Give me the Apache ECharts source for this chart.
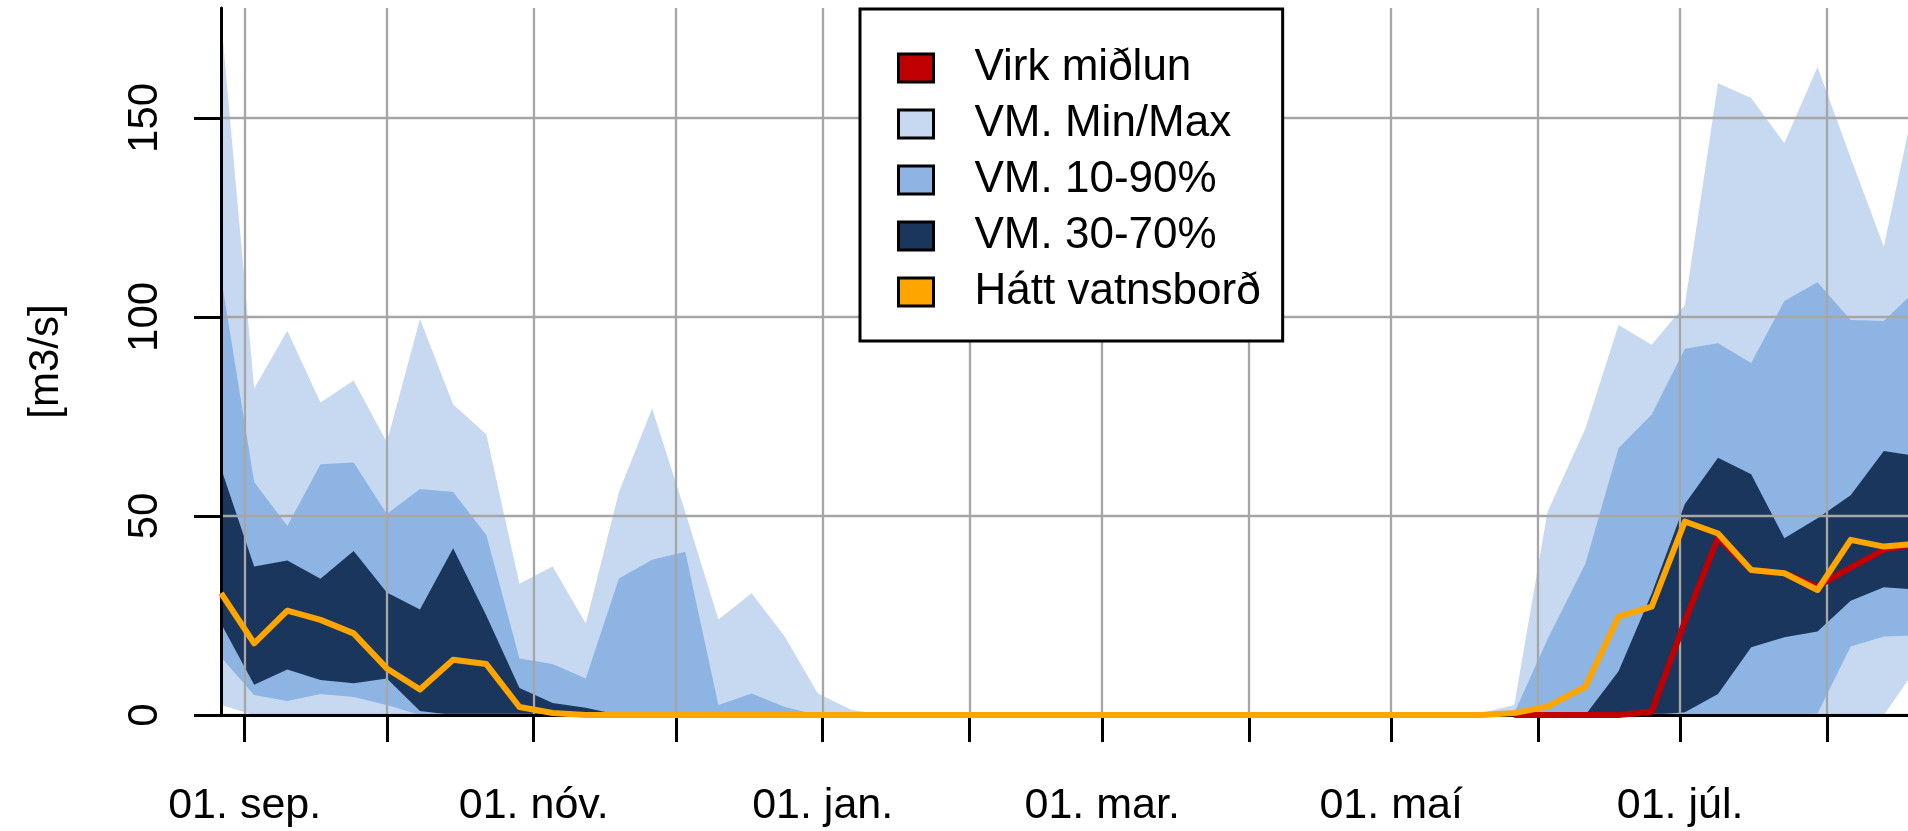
<!DOCTYPE html>
<html>
<head>
<meta charset="utf-8">
<script src="https://cdn.jsdelivr.net/npm/echarts@6/dist/echarts.min.js"></script>
<style>
html,body{margin:0;padding:0;background:#fff;}
#chart{width:1908px;height:831px;}
</style>
</head>
<body>
<div id="chart"></div>
<script>
// Weekly data points (52 per year)
const weekDates = ['2022-08-27','2022-09-03','2022-09-10','2022-09-17','2022-09-24','2022-10-01','2022-10-08','2022-10-15','2022-10-22','2022-10-29','2022-11-05','2022-11-12','2022-11-19','2022-11-26','2022-12-03','2022-12-10','2022-12-17','2022-12-24','2022-12-31','2023-01-07','2023-01-14','2023-01-21','2023-01-28','2023-02-04','2023-02-11','2023-02-18','2023-02-25','2023-03-04','2023-03-11','2023-03-18','2023-03-25','2023-04-01','2023-04-08','2023-04-15','2023-04-22','2023-04-29','2023-05-06','2023-05-13','2023-05-20','2023-05-27','2023-06-03','2023-06-11','2023-06-18','2023-06-25','2023-07-02','2023-07-09','2023-07-16','2023-07-23','2023-07-30','2023-08-06','2023-08-13','2023-08-20'];

const vmMax = [175, 82, 96.5, 78.5, 84, 68.5, 99.5, 78, 70.5, 33, 37.3, 23, 56, 77, 51, 24, 30.6, 19.7, 5.4, 1.3,
  0, 0, 0, 0, 0, 0, 0, 0, 0, 0, 0, 0, 0, 0, 0, 0, 0, 0,
  0.5, 2.5, 51, 72, 98, 93, 103, 158.7, 155, 143.6, 162.8, 140, 117.6, 157];
const vmP90 = [110, 58.5, 47.5, 63, 63.4, 50.5, 56.8, 56, 45.2, 14.2, 12.8, 9.2, 34.3, 39, 41, 2.5, 5.4, 2,
  0, 0, 0, 0, 0, 0, 0, 0, 0, 0, 0, 0, 0, 0, 0, 0, 0, 0, 0, 0, 0,
  0.5, 19, 38, 67, 75.5, 92, 93.4, 88.4, 104, 108.7, 99.2, 99, 107];
const vmP70 = [62, 37.3, 38.8, 34.2, 41.2, 30.8, 26.5, 41.9, 25, 6.8, 3, 1.8,
  0, 0, 0, 0, 0, 0, 0, 0, 0, 0, 0, 0, 0, 0, 0, 0, 0, 0, 0, 0, 0, 0, 0, 0, 0, 0, 0, 0, 0, 0,
  11, 30.5, 53, 64.6, 60.5, 44.4, 49.4, 55.2, 66.3, 65];
const vmP30 = [23, 7.6, 11.4, 8.8, 8, 9.2, 1,
  0, 0, 0, 0, 0, 0, 0, 0, 0, 0, 0, 0, 0, 0, 0, 0, 0, 0, 0, 0, 0, 0, 0, 0, 0, 0, 0, 0, 0, 0, 0, 0, 0, 0, 0, 0, 0,
  0.7, 5.3, 17, 19.5, 21, 28.7, 32.1, 31.5];
const vmP10 = [14.5, 5, 3.5, 5.3, 4.5, 2.5,
  0, 0, 0, 0, 0, 0, 0, 0, 0, 0, 0, 0, 0, 0, 0, 0, 0, 0, 0, 0, 0, 0, 0, 0, 0, 0, 0, 0, 0, 0, 0, 0, 0, 0, 0, 0, 0, 0, 0, 0, 0, 0,
  0.4, 17.2, 19.7, 20];
const vmMin = [2.5,
  0, 0, 0, 0, 0, 0, 0, 0, 0, 0, 0, 0, 0, 0, 0, 0, 0, 0, 0, 0, 0, 0, 0, 0, 0,
  0, 0, 0, 0, 0, 0, 0, 0, 0, 0, 0, 0, 0, 0, 0, 0, 0, 0, 0, 0, 0, 0, 0, 0, 0,
  12];
const hattVatnsbord = [30.6, 18, 26.2, 23.9, 20.5, 11.7, 6.4, 13.9, 12.8, 2, 0.5,
  0, 0, 0, 0, 0, 0, 0, 0, 0, 0, 0, 0, 0, 0, 0, 0, 0, 0, 0, 0, 0, 0, 0, 0, 0, 0, 0, 0,
  0.5, 2.1, 7.1, 24.7, 27.2, 48.6, 45.6, 36.4, 35.6, 31.4, 44, 42.3, 43];
const virkMidlun = [null, null, null, null, null, null, null, null, null, null, null, null, null,
  null, null, null, null, null, null, null, null, null, null, null, null, null,
  null, null, null, null, null, null, null, null, null, null, null, null, null,
  0, 0, 0, 0, 0.8, 23.5, 44.5, 36.4, 35.6, 32.3, 37, 41.5, 43];

// Axis ticks: first of each month; labels every second month
const monthTicks = ['2022-09-01','2022-10-01','2022-11-01','2022-12-01','2023-01-01','2023-02-01','2023-03-01','2023-04-01','2023-05-01','2023-06-01','2023-07-01','2023-08-01'];
const labelDates = ['2022-09-01','2022-11-01','2023-01-01','2023-03-01','2023-05-01','2023-07-01'];
const tickLabels = ['01. sep.','01. nóv.','01. jan.','01. mar.','01. maí','01. júl.'];
const yTicks = [0, 50, 100, 150];

const names = {
  red: 'Virk miðlun', minmax: 'VM. Min/Max', p1090: 'VM. 10-90%', p3070: 'VM. 30-70%', hatt: 'Hátt vatnsborð'
};
const C = { light: '#c6d9f1', mid: '#8eb4e3', dark: '#1a365d', orange: '#ffa500', red: '#c00000' };

function ts(s) { const p = s.split('-').map(Number); return Date.UTC(p[0], p[1] - 1, p[2]); }
const pairs = arr => weekDates.map((d, i) => [ts(d), arr[i]]);
const labelTs = labelDates.map(ts);
const FONT = '"Liberation Sans", Arial, Helvetica, sans-serif';

function area(name, arr, color) {
  return { type: 'line', name, data: pairs(arr), symbol: 'none', smooth: false, z: 1,
    lineStyle: { width: 0 }, areaStyle: { color, opacity: 1 }, silent: true };
}
function line(name, arr, color) {
  return { type: 'line', name, data: pairs(arr), symbol: 'none', smooth: false, z: 3, clip: false,
    connectNulls: false, lineStyle: { width: 6, color, join: 'round', cap: 'butt' }, itemStyle: { color }, silent: true };
}

const chart = echarts.init(document.getElementById('chart'), null, { renderer: 'canvas' });
const xMin = ts(weekDates[0]), xMax = ts(weekDates[weekDates.length - 1]);
const GRIDC = '#a6a6a6';
chart.setOption({
  animation: false,
  backgroundColor: '#fff',
  grid: { left: 221, right: -9, top: 8, bottom: 116, outerBoundsMode: 'none', containLabel: false },
  legend: {
    orient: 'vertical', left: 860, top: 9, z: 10,
    padding: [29, 22, 19, 37], itemWidth: 35, itemHeight: 28, itemGap: -4,
    backgroundColor: '#fff', borderColor: '#000', borderWidth: 3,
    selectedMode: false,
    textStyle: { fontFamily: FONT, fontSize: 44, color: '#000', lineHeight: 44, padding: [16, 0, 0, 36] },
    data: [
      { name: names.red, icon: 'rect', itemStyle: { color: C.red, borderColor: '#000', borderWidth: 3 } },
      { name: names.minmax, icon: 'rect', itemStyle: { color: C.light, borderColor: '#000', borderWidth: 3 } },
      { name: names.p1090, icon: 'rect', itemStyle: { color: C.mid, borderColor: '#000', borderWidth: 3 } },
      { name: names.p3070, icon: 'rect', itemStyle: { color: C.dark, borderColor: '#000', borderWidth: 3 } },
      { name: names.hatt, icon: 'rect', itemStyle: { color: C.orange, borderColor: '#000', borderWidth: 3 } }
    ]
  },
  xAxis: [{
    type: 'value', min: xMin, max: xMax, z: 2,
    axisLine: { show: true, onZero: false, lineStyle: { color: '#000', width: 3 } },
    axisTick: { show: true, length: 27, customValues: monthTicks.map(ts), lineStyle: { color: '#000', width: 3 } },
    axisLabel: { show: true, customValues: labelTs, margin: 70, fontFamily: FONT, fontSize: 43, color: '#000',
      formatter: v => { const i = labelTs.indexOf(v); return i >= 0 ? tickLabels[i] : ''; } },
    splitLine: { show: true, lineStyle: { color: GRIDC, width: 2.3 } }
  }, {
    type: 'value', min: xMin, max: xMax, position: 'top', z: 3,
    axisLine: { show: true, lineStyle: { color: '#000', width: 3 } },
    axisTick: { show: false }, axisLabel: { show: false }, splitLine: { show: false }
  }],
  yAxis: {
    type: 'value', min: 0, max: 177.6, interval: 50, z: 2,
    name: '[m3/s]', nameLocation: 'middle', nameGap: 154,
    nameTextStyle: { fontFamily: FONT, fontSize: 42, color: '#000' },
    axisLine: { show: true, lineStyle: { color: '#000', width: 3 } },
    axisTick: { show: true, length: 27, customValues: yTicks, lineStyle: { color: '#000', width: 3 } },
    axisLabel: { show: true, customValues: yTicks, rotate: 90, margin: 55, fontFamily: FONT, fontSize: 42, color: '#000' },
    splitLine: { show: true, lineStyle: { color: GRIDC, width: 2.3 } }
  },
  series: [
    area(names.minmax, vmMax, C.light),
    area(names.p1090, vmP90, C.mid),
    area(names.p3070, vmP70, C.dark),
    area(names.p1090, vmP30, C.mid),
    area(names.minmax, vmP10, C.light),
    area('min', vmMin, '#ffffff'),
    line(names.red, virkMidlun, C.red),
    line(names.hatt, hattVatnsbord, C.orange)
  ]
});
</script>
</body>
</html>
